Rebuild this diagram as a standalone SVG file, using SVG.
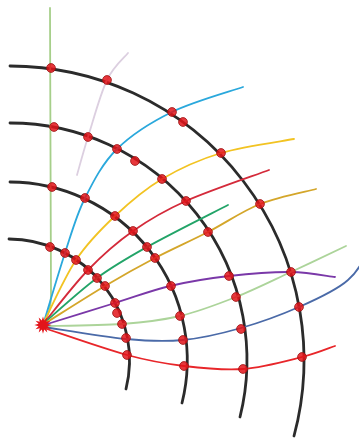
<svg xmlns="http://www.w3.org/2000/svg" width="359" height="439" viewBox="0 0 359 439">
<style>
.arc{fill:none;stroke:#2b2b2b;stroke-width:2.8;stroke-linecap:round}
.ray{fill:none;stroke-width:1.8;stroke-linecap:round}
.dot{fill:#e3141a;stroke:#9a1010;stroke-width:0.8;fill-opacity:0.85}
</style>
<rect width="359" height="439" fill="#ffffff"/>
<g id="connectors">
<g id="arcs">
<path id="arc1" class="arc" d="M10,66 A294,294 0 0 1 294,436"/>
<path id="arc2" class="arc" d="M10,123 A237,237 0 0 1 240,417"/>
<path id="arc3" class="arc" d="M10,182 A178,178 0 0 1 182,403"/>
<path id="arc4" class="arc" d="M9,239 A121,121 0 0 1 126,389"/>
</g>
<g id="rays">
<path id="ray-lavender" class="ray" stroke="#dccfe0" d="M128,53 C124.5,57.5 113.7,66 107,80 C100.3,94 93,121.2 88,137 C83,152.8 78.8,168.7 77,175"/>
<path id="ray-lightgreen-v" class="ray" stroke="#a6cf8a" d="M44,322 Q51,312 51,295 L50,8"/>
<path id="ray-blue" class="ray" stroke="#2aa8dc" d="M44,322 C47.5,310.5 58.2,273.7 65,253 C71.8,232.3 76.3,215.3 85,198 C93.7,180.7 102.5,163.3 117,149 C131.5,134.7 151,122.3 172,112 C193,101.7 231.2,91.2 243,87"/>
<path id="ray-yellow" class="ray" stroke="#f2c322" d="M44,322 C49.3,311.7 64.2,277.7 76,260 C87.8,242.3 100.7,229.5 115,216 C129.3,202.5 144.3,189.5 162,179 C179.7,168.5 199,159.7 221,153 C243,146.3 281.8,141.3 294,139"/>
<path id="ray-crimson" class="ray" stroke="#d42a3a" d="M44,323 C51.3,314.2 73.2,285.3 88,270 C102.8,254.7 116.7,242.5 133,231 C149.3,219.5 163.3,211.2 186,201 C208.7,190.8 255.2,175.2 269,170"/>
<path id="ray-green" class="ray" stroke="#22a468" d="M44,323 C52.8,315.5 79.8,290.7 97,278 C114.2,265.3 125.2,259.2 147,247 C168.8,234.8 214.5,212 228,205"/>
<path id="ray-gold" class="ray" stroke="#d4a62a" d="M44,324 C54.2,317.7 86.5,297 105,286 C123.5,275 137.8,267 155,258 C172.2,249 190.5,241 208,232 C225.5,223 242,211.2 260,204 C278,196.8 306.7,191.5 316,189"/>
<path id="ray-purple" class="ray" stroke="#7a38a8" d="M44,325 C55.8,321.3 94,309.5 115,303 C136,296.5 151,290.5 170,286 C189,281.5 208.8,278.3 229,276 C249.2,273.7 273.3,271.8 291,272 C308.7,272.2 327.7,276.2 335,277"/>
<path id="ray-palegreen" class="ray" stroke="#acd49a" d="M44,326 C57,325.7 99.3,325.7 122,324 C144.7,322.3 161,320.5 180,316 C199,311.5 217.5,304.3 236,297 C254.5,289.7 272.7,280.5 291,272 C309.3,263.5 336.8,250.3 346,246"/>
<path id="ray-steelblue" class="ray" stroke="#4a6aa8" d="M44,327 C57.7,329 102.8,336.8 126,339 C149.2,341.2 163.8,341.8 183,340 C202.2,338.2 221.7,333.5 241,328 C260.3,322.5 281.2,314.8 299,307 C316.8,299.2 338,289 348,280 C354,275 357,271 361,264"/>
<path id="ray-red" class="ray" stroke="#e8262a" d="M44,328 C57.8,332.5 103.7,348.7 127,355 C150.3,361.3 164.7,363.7 184,366 C203.3,368.3 223.3,370.5 243,369 C262.7,367.5 286.7,360.8 302,357 C317.3,353.2 329.5,347.8 335,346"/>
</g>
</g>
<g id="dots">
<g id="dots-arc1">
<circle class="dot" cx="51" cy="68" r="4.4"/>
<circle class="dot" cx="107" cy="80" r="4.4"/>
<circle class="dot" cx="172" cy="112" r="4.4"/>
<circle class="dot" cx="183" cy="122" r="4.4"/>
<circle class="dot" cx="221" cy="153" r="4.4"/>
<circle class="dot" cx="260" cy="204" r="4.4"/>
<circle class="dot" cx="291" cy="272" r="4.4"/>
<circle class="dot" cx="299" cy="307" r="4.4"/>
<circle class="dot" cx="302" cy="357" r="4.4"/>
</g>
<g id="dots-arc2">
<circle class="dot" cx="54" cy="127" r="4.4"/>
<circle class="dot" cx="88" cy="137" r="4.4"/>
<circle class="dot" cx="117" cy="149" r="4.4"/>
<circle class="dot" cx="135" cy="161" r="4.4"/>
<circle class="dot" cx="162" cy="179" r="4.4"/>
<circle class="dot" cx="186" cy="201" r="4.4"/>
<circle class="dot" cx="208" cy="232" r="4.4"/>
<circle class="dot" cx="229" cy="276" r="4.4"/>
<circle class="dot" cx="236" cy="297" r="4.4"/>
<circle class="dot" cx="241" cy="329" r="4.4"/>
<circle class="dot" cx="243" cy="369" r="4.4"/>
</g>
<g id="dots-arc3">
<circle class="dot" cx="52" cy="187" r="4.4"/>
<circle class="dot" cx="85" cy="198" r="4.4"/>
<circle class="dot" cx="115" cy="216" r="4.4"/>
<circle class="dot" cx="133" cy="231" r="4.4"/>
<circle class="dot" cx="147" cy="247" r="4.4"/>
<circle class="dot" cx="155" cy="258" r="4.4"/>
<circle class="dot" cx="171" cy="286" r="4.4"/>
<circle class="dot" cx="180" cy="316" r="4.4"/>
<circle class="dot" cx="183" cy="340" r="4.4"/>
<circle class="dot" cx="184" cy="366" r="4.4"/>
</g>
<g id="dots-arc4">
<circle class="dot" cx="50" cy="247" r="4.4"/>
<circle class="dot" cx="65" cy="253" r="4.4"/>
<circle class="dot" cx="76" cy="260" r="4.4"/>
<circle class="dot" cx="88" cy="270" r="4.4"/>
<circle class="dot" cx="97" cy="278" r="4.4"/>
<circle class="dot" cx="105" cy="286" r="4.4"/>
<circle class="dot" cx="115" cy="303" r="4.4"/>
<circle class="dot" cx="117" cy="313" r="4.4"/>
<circle class="dot" cx="122" cy="324" r="4.4"/>
<circle class="dot" cx="126" cy="338" r="4.4"/>
<circle class="dot" cx="127" cy="355" r="4.4"/>
</g>
</g>
<g id="origin">
<polygon fill="#e3141a" transform="translate(43,325) scale(1.15) translate(-43,-325)" points="50.5,325 46.86,326.04 49.5,328.75 45.83,327.83 46.75,331.5 44.04,328.86 43,332.5 41.96,328.86 39.25,331.5 40.17,327.83 36.5,328.75 39.14,326.04 35.5,325 39.14,323.96 36.5,321.25 40.17,322.17 39.25,318.5 41.96,321.14 43,317.5 44.04,321.14 46.75,318.5 45.83,322.17 49.5,321.25 46.86,323.96"/>
</g>
</svg>
